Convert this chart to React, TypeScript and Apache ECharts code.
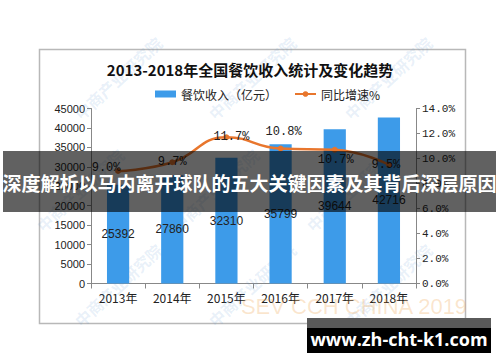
import React, { useEffect, useRef } from "react";
import * as echarts from "echarts";

const years = ["2013年", "2014年", "2015年", "2016年", "2017年", "2018年"];
const revenue = [25392, 27860, 32310, 35799, 39644, 42716];
const growth = [9.0, 9.7, 11.7, 10.8, 10.7, 9.5];
const growthLabelOffsets: [number, number][] = [
  [-12, -3],
  [0, 0],
  [5, 0],
  [3, -17],
  [1, 10],
  [-3, 0],
];
const titleText = "2013-2018年全国餐饮收入统计及变化趋势";
const legendBar = "餐饮收入（亿元）";
const legendLine = "同比增速%";
const bannerText = "深度解析以马内离开球队的五大关键因素及其背后深层原因";
const siteText = "www.zh-cht-k1.com";
const watermarkText = "中商产业研究院";
const watermarkEn = "SEV CCH CHINA 2019";

const BLUE = "#3d9be9";
const ORANGE = "#e8762d";

export default function App() {
  const ref = useRef<HTMLDivElement>(null);
  useEffect(() => {
    if (!ref.current) return;
    const chart = echarts.init(ref.current, null, { renderer: "svg" });
    const wmPositions = [
      [118, 78], [252, 78], [388, 78],
      [80, 190], [215, 190], [350, 190],
      [118, 285], [252, 285], [388, 285],
    ];
    const watermarks = wmPositions.map(([x, y]) => ({
      type: "text",
      x,
      y,
      rotation: Math.PI / 4.2,
      z: 1,
      silent: true,
      style: {
        text: watermarkText,
        fill: "rgba(90,150,210,0.14)",
        font: 'bold 16px "Noto Sans CJK SC"',
        textAlign: "center",
        textVerticalAlign: "middle",
      },
    }));
    chart.setOption({
      animation: false,
      backgroundColor: "#ffffff",
      title: {
        text: titleText,
        left: "center",
        top: 57,
        textStyle: {
          fontFamily: '"Noto Sans CJK SC"',
          fontWeight: "bold",
          fontSize: 15,
          color: "#111",
        },
      },
      legend: {
        left: 150,
        top: 83,
        itemWidth: 21,
        itemHeight: 7,
        itemGap: 17,
        textStyle: { fontFamily: '"Noto Sans CJK SC"', fontSize: 12, color: "#222" },
        data: [
          { name: legendBar, icon: "rect" },
          { name: legendLine },
        ],
      },
      grid: { left: 91, right: 84, top: 108.5, bottom: 78.5, containLabel: false },
      xAxis: {
        type: "category",
        data: years,
        axisLine: { lineStyle: { color: "#888" } },
        axisTick: { show: true, alignWithLabel: false, length: 5, lineStyle: { color: "#888" } },
        axisLabel: {
          color: "#222",
          fontSize: 12,
          fontFamily: '"Noto Sans CJK SC"',
          margin: 8,
        },
      },
      yAxis: [
        {
          type: "value",
          min: 0,
          max: 45000,
          interval: 5000,
          axisLine: { show: true, lineStyle: { color: "#888" } },
          axisTick: { show: true, length: 4, lineStyle: { color: "#888" } },
          splitLine: { show: false },
          axisLabel: {
            color: "#222",
            fontSize: 11,
            fontFamily: '"Liberation Sans"',
            margin: 6,
            formatter: (v: number) => String(v),
          },
        },
        {
          type: "value",
          min: 0,
          max: 14,
          interval: 2,
          position: "right",
          axisLine: { show: true, lineStyle: { color: "#888" } },
          axisTick: { show: true, length: 4, lineStyle: { color: "#888" } },
          splitLine: { show: false },
          axisLabel: {
            color: "#222",
            fontSize: 11,
            fontFamily: '"Liberation Mono"',
            margin: 6,
            formatter: (v: number) => v.toFixed(1) + "%",
          },
        },
      ],
      series: [
        {
          name: legendBar,
          type: "bar",
          data: revenue,
          barWidth: "41%",
          itemStyle: { color: BLUE },
          z: 2,
          label: {
            show: true,
            position: "inside",
            color: "#222",
            fontSize: 12,
            fontFamily: '"Liberation Sans"',
            formatter: (p: any) => String(p.value),
          },
        },
        {
          name: legendLine,
          type: "line",
          yAxisIndex: 1,
          smooth: true,
          data: growth.map((v, i) => ({
            value: v,
            label: { offset: growthLabelOffsets[i] },
          })),
          symbol: "circle",
          symbolSize: 6,
          lineStyle: { color: ORANGE, width: 2.5 },
          itemStyle: { color: ORANGE },
          z: 3,
          label: {
            show: true,
            position: "inside",
            color: "#222",
            fontSize: 12,
            fontFamily: '"Liberation Mono"',
            formatter: (p: any) => Number(p.value).toFixed(1) + "%",
          },
        },
      ],
      graphic: [
        {
          type: "rect",
          z: 0,
          silent: true,
          shape: { x: 39.5, y: 49.5, width: 426, height: 274 },
          style: { fill: "none", stroke: "#b8b8b8", lineWidth: 1.5 },
        },
        ...watermarks,
        {
          type: "text",
          x: 354,
          y: 306,
          z: 1,
          silent: true,
          style: {
            text: watermarkEn,
            fill: "rgba(240,165,80,0.28)",
            font: '22px "Liberation Sans"',
            textAlign: "center",
            textVerticalAlign: "middle",
          },
        },
        {
          type: "rect",
          z: 100,
          silent: true,
          shape: { x: 3, y: 151, width: 493, height: 61 },
          style: { fill: "rgba(0,0,0,0.62)" },
        },
        {
          type: "text",
          z: 101,
          x: 249.5,
          y: 182,
          silent: true,
          style: {
            text: bannerText,
            fill: "#ffffff",
            font: 'bold 19px "Noto Sans CJK SC"',
            textAlign: "center",
            textVerticalAlign: "middle",
          },
        },
        {
          type: "rect",
          z: 100,
          silent: true,
          shape: { x: 307, y: 318, width: 184, height: 10 },
          style: { fill: "#5a5a5a" },
        },
        {
          type: "rect",
          z: 100,
          silent: true,
          shape: { x: 307, y: 328, width: 184, height: 25 },
          style: { fill: "#000000" },
        },
        {
          type: "text",
          z: 101,
          x: 399,
          y: 339,
          silent: true,
          style: {
            text: siteText,
            fill: "#ffffff",
            font: 'bold 18px "Open Sans"',
            textAlign: "center",
            textVerticalAlign: "middle",
          },
        },
      ],
    });
    return () => chart.dispose();
  }, []);
  return (
    <div
      ref={ref}
      style={{ position: "absolute", left: 0, top: 0, width: 500, height: 362 }}
    />
  );
}
